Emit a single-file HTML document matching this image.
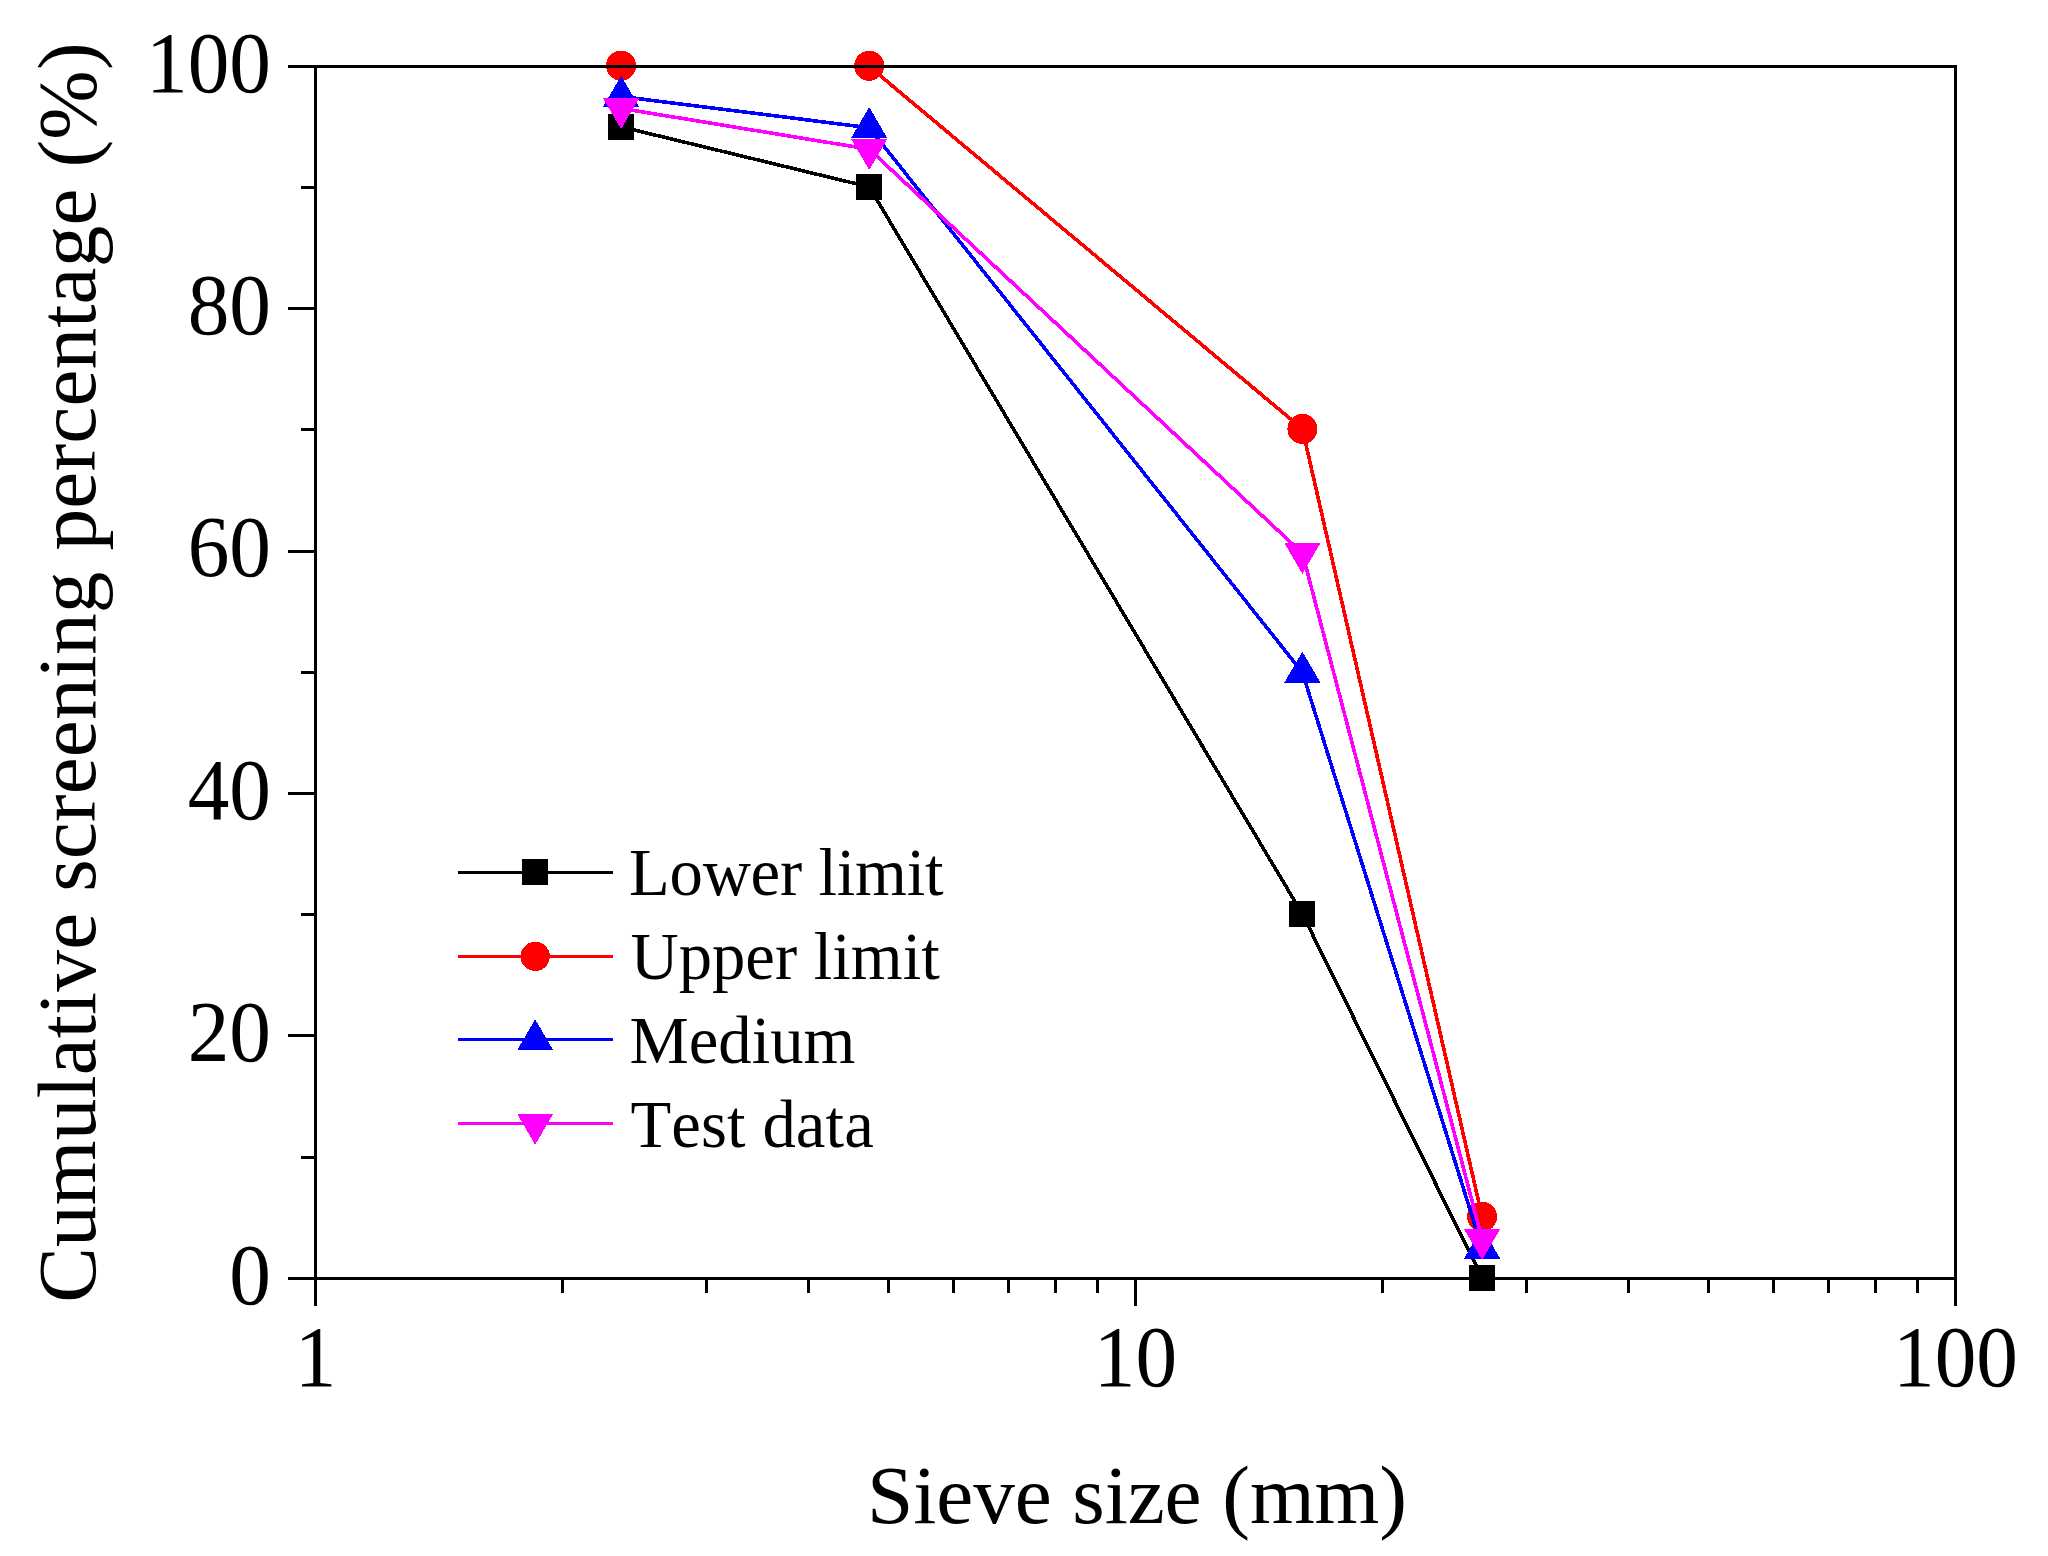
<!DOCTYPE html>
<html lang="en"><head><meta charset="utf-8"><title>Sieve size chart</title>
<style>
html,body{margin:0;padding:0;background:#fff;}
body{width:2048px;height:1556px;overflow:hidden;}
svg{display:block;}
text{font-family:"Liberation Serif",serif;fill:#000;font-kerning:none;}
.t20{font-size:83.33px;}
.t16{font-size:66.67px;}
</style></head><body>
<svg width="2048" height="1556" viewBox="0 0 2048 1556">
<rect width="2048" height="1556" fill="#fff"/>
<g id="data" shape-rendering="crispEdges">
<polyline points="621.1,126.8 869.2,186.9 1302.4,914.0 1482.1,1277.8" fill="none" stroke="#000000" stroke-width="3.6" stroke-linejoin="round"/>
<rect x="608.1" y="113.8" width="26" height="26" fill="#000000"/>
<rect x="856.2" y="173.9" width="26" height="26" fill="#000000"/>
<rect x="1289.4" y="901.0" width="26" height="26" fill="#000000"/>
<rect x="1469.1" y="1264.8" width="26" height="26" fill="#000000"/>
<polyline points="621.1,66.5 869.2,66.5 1302.4,428.9 1482.1,1216.8" fill="none" stroke="#ff0000" stroke-width="3.6" stroke-linejoin="round"/>
<circle cx="621.1" cy="65.6" r="15" fill="#ff0000"/>
<circle cx="869.2" cy="65.8" r="15" fill="#ff0000"/>
<circle cx="1302.4" cy="428.9" r="15" fill="#ff0000"/>
<circle cx="1482.1" cy="1216.8" r="15" fill="#ff0000"/>
<polyline points="621.1,96.5 869.2,127.7 1302.4,672.4 1482.1,1248.3" fill="none" stroke="#0000ff" stroke-width="3.6" stroke-linejoin="round"/>
<polygon points="621.1,75.8 639.2,106.8 603.0,106.8" fill="#0000ff"/>
<polygon points="869.2,107.0 887.3,138.0 851.1,138.0" fill="#0000ff"/>
<polygon points="1302.4,651.7 1320.5,682.7 1284.3,682.7" fill="#0000ff"/>
<polygon points="1482.1,1227.6 1500.2,1258.6 1464.0,1258.6" fill="#0000ff"/>
<polyline points="621.1,108.4 869.2,149.2 1302.4,553.2 1482.1,1239.3" fill="none" stroke="#ff00ff" stroke-width="3.6" stroke-linejoin="round"/>
<polygon points="621.1,129.1 639.2,98.1 603.0,98.1" fill="#ff00ff"/>
<polygon points="869.2,169.9 887.3,138.9 851.1,138.9" fill="#ff00ff"/>
<polygon points="1302.4,573.9 1320.5,542.9 1284.3,542.9" fill="#ff00ff"/>
<polygon points="1482.1,1260.0 1500.2,1229.0 1464.0,1229.0" fill="#ff00ff"/>
</g>
<g id="axes" fill="#000" shape-rendering="crispEdges">
<rect x="314" y="65" width="3" height="1241"/>
<rect x="1954" y="65" width="3" height="1241"/>
<rect x="288" y="65" width="1669" height="3"/>
<rect x="288" y="1277" width="1669" height="3"/>
<rect x="301" y="1156" width="14" height="3"/>
<rect x="288" y="1034" width="27" height="3"/>
<rect x="301" y="913" width="14" height="3"/>
<rect x="288" y="792" width="27" height="3"/>
<rect x="301" y="671" width="14" height="3"/>
<rect x="288" y="550" width="27" height="3"/>
<rect x="301" y="428" width="14" height="3"/>
<rect x="288" y="307" width="27" height="3"/>
<rect x="301" y="186" width="14" height="3"/>
<rect x="561" y="1279" width="3" height="14"/>
<rect x="705" y="1279" width="3" height="14"/>
<rect x="807" y="1279" width="3" height="14"/>
<rect x="887" y="1279" width="3" height="14"/>
<rect x="952" y="1279" width="3" height="14"/>
<rect x="1007" y="1279" width="3" height="14"/>
<rect x="1054" y="1279" width="3" height="14"/>
<rect x="1096" y="1279" width="3" height="14"/>
<rect x="1381" y="1279" width="3" height="14"/>
<rect x="1525" y="1279" width="3" height="14"/>
<rect x="1627" y="1279" width="3" height="14"/>
<rect x="1707" y="1279" width="3" height="14"/>
<rect x="1772" y="1279" width="3" height="14"/>
<rect x="1827" y="1279" width="3" height="14"/>
<rect x="1874" y="1279" width="3" height="14"/>
<rect x="1916" y="1279" width="3" height="14"/>
<rect x="1134" y="1279" width="3" height="27"/>
</g>
<g class="t20" text-anchor="end">
<text transform="translate(271,1303.5) scale(1,1.045)">0</text>
<text transform="translate(271,1061.1) scale(1,1.045)">20</text>
<text transform="translate(271,818.7) scale(1,1.045)">40</text>
<text transform="translate(271,576.3) scale(1,1.045)">60</text>
<text transform="translate(271,333.9) scale(1,1.045)">80</text>
<text transform="translate(271,91.5) scale(1,1.045)">100</text>
</g>
<g class="t20" text-anchor="middle">
<text transform="translate(315.5,1386) scale(1,1.045)">1</text>
<text transform="translate(1135.5,1386) scale(1,1.045)">10</text>
<text transform="translate(1955.5,1386) scale(1,1.045)">100</text>
<text x="1137" y="1523" letter-spacing="-0.1">Sieve size (mm)</text>
<text transform="translate(94.5,672.5) rotate(-90)" letter-spacing="0.12">Cumulative screening percentage (%)</text>
</g>
<g id="legend" shape-rendering="crispEdges">
<rect x="458" y="871" width="155" height="3" fill="#000000"/>
<rect x="522.2" y="859.4" width="26" height="26" fill="#000000"/>
<rect x="458" y="955" width="155" height="3" fill="#ff0000"/>
<circle cx="535.2" cy="956.4" r="14.6" fill="#ff0000"/>
<rect x="458" y="1038" width="155" height="3" fill="#0000ff"/>
<polygon points="535.2,1019.3 553.3,1050.3 517.1,1050.3" fill="#0000ff"/>
<rect x="458" y="1122" width="155" height="3" fill="#ff00ff"/>
<polygon points="535.2,1144.7 553.3,1113.7 517.1,1113.7" fill="#ff00ff"/>
</g>
<g class="t16">
<text x="629.0" y="895.2" letter-spacing="-0.2">Lower limit</text>
<text x="630.5" y="979.2" letter-spacing="0">Upper limit</text>
<text x="629.5" y="1062.7" letter-spacing="0">Medium</text>
<text x="630.5" y="1146.5" letter-spacing="0.1">Test data</text>
</g>
</svg>
</body></html>
